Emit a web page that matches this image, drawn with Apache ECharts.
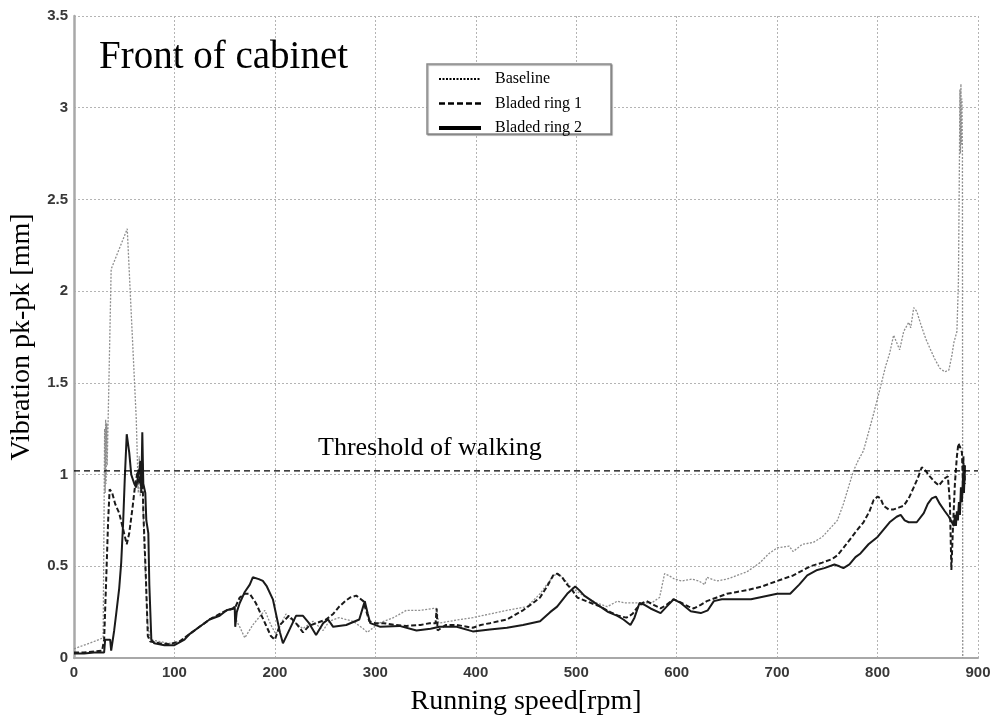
<!DOCTYPE html>
<html>
<head>
<meta charset="utf-8">
<script src="https://cdn.jsdelivr.net/npm/echarts@6/dist/echarts.min.js"></script>
<style>
  html, body { margin: 0; padding: 0; background: #fff; }
  #chart { width: 997px; height: 717px; }
</style>
</head>
<body>
<div id="chart"></div>
<script>
// Vibration (pk-pk, mm) against running speed (rpm), front of cabinet
const seriesNames = ['Baseline', 'Bladed ring 1', 'Bladed ring 2'];
const thresholdValue = 1.02;
const speedRange = [0, 900];

const baselineData = [
  [0,0.05],[10,0.07],[20,0.09],[29,0.11],[30,0.85],[30.5,1.25],[31,0.9],[31.5,1.3],[32,0.95],[32.5,1.28],
  [33,1.05],[34,1.3],[37,2.12],[53,2.34],[62,1.3],[64,0.9],[65,1.1],[66,0.88],[67,1.08],[68,0.95],
  [70,0.6],[73,0.2],[76,0.1],[85,0.09],[95,0.08],[105,0.09],[115,0.13],[125,0.17],[135,0.21],[145,0.24],
  [152,0.26],[158,0.27],[160,0.27],[162,0.2],[165,0.17],[170,0.11],[178,0.18],[190,0.26],[196,0.18],[201,0.13],
  [211,0.24],[218,0.2],[228,0.16],[238,0.2],[248,0.15],[254,0.2],[264,0.22],[278,0.2],[288,0.16],[292,0.14],
  [304,0.19],[318,0.22],[331,0.26],[345,0.26],[358,0.27],[361,0.27],[363,0.19],[374,0.2],[384,0.21],[397,0.22],
  [414,0.24],[431,0.26],[451,0.28],[464,0.35],[472,0.41],[478,0.45],[482,0.46],[488,0.43],[494,0.39],[507,0.34],
  [520,0.3],[531,0.28],[541,0.31],[548,0.3],[560,0.3],[575,0.3],[583,0.33],[588,0.46],[592,0.45],[598,0.43],
  [605,0.42],[615,0.43],[622,0.42],[628,0.4],[630,0.44],[640,0.42],[650,0.43],[660,0.45],[670,0.47],[683,0.52],
  [692,0.57],[700,0.6],[712,0.61],[716,0.58],[725,0.62],[736,0.63],[745,0.66],[750,0.69],[760,0.75],[766,0.84],
  [771,0.93],[776,1.02],[781,1.08],[786,1.13],[791,1.23],[796,1.33],[803,1.48],[808,1.59],[812,1.66],[816,1.76],
  [822,1.68],[826,1.78],[831,1.83],[833,1.8],[836,1.91],[839,1.89],[843,1.82],[848,1.74],[852,1.69],[857,1.63],
  [862,1.58],[867,1.56],[871,1.57],[874,1.65],[876,1.72],[879,1.78],[880.5,2.05],[881.5,2.7],[882,3.1],[882.5,2.75],
  [883,3.13],[883.5,2.8],[884,3.05],[884.5,2.76],[884.8,0.0]
];

const ring1Data = [
  [0,0.03],[10,0.03],[20,0.035],[28,0.04],[30,0.1],[32,0.42],[34,0.75],[35.5,0.92],[38,0.9],[41,0.84],
  [45,0.79],[49,0.7],[52.5,0.62],[55,0.68],[58.5,0.83],[61,0.95],[63.5,1.02],[65,0.95],[66,1.08],[67,1.0],
  [68,1.06],[69,0.8],[71.5,0.45],[73.5,0.12],[76,0.09],[85,0.08],[95,0.075],[105,0.09],[115,0.13],[125,0.17],
  [135,0.21],[145,0.24],[152,0.26],[160,0.27],[165,0.33],[170,0.35],[175,0.35],[181,0.3],[186,0.24],[191,0.18],
  [196,0.12],[200,0.1],[205,0.18],[214,0.23],[221,0.19],[228,0.14],[234,0.175],[241,0.19],[251,0.21],[258,0.24],
  [264,0.28],[270,0.31],[275,0.33],[281,0.34],[288,0.31],[294,0.2],[300,0.19],[308,0.19],[320,0.18],[331,0.175],
  [345,0.18],[354,0.19],[360,0.19],[361,0.27],[362,0.15],[370,0.18],[381,0.18],[397,0.165],[405,0.18],[414,0.19],
  [431,0.21],[447,0.26],[457,0.3],[464,0.33],[471,0.39],[477,0.45],[481,0.46],[486,0.44],[491,0.4],[496,0.37],
  [501,0.33],[510,0.31],[524,0.28],[534,0.25],[542,0.23],[550,0.22],[556,0.24],[560,0.27],[566,0.3],[570,0.31],
  [577,0.29],[584,0.27],[590,0.29],[597,0.32],[605,0.3],[612,0.28],[617,0.27],[624,0.29],[630,0.31],[640,0.33],
  [650,0.35],[660,0.36],[670,0.37],[685,0.39],[700,0.42],[716,0.45],[733,0.5],[745,0.52],[755,0.54],[760,0.56],
  [766,0.6],[773,0.65],[780,0.7],[786,0.74],[792,0.8],[796,0.86],[800,0.88],[803,0.87],[806,0.83],[811,0.81],
  [816,0.81],[821,0.82],[826,0.83],[831,0.87],[836,0.93],[840,0.98],[844,1.04],[848,1.02],[852,0.99],[857,0.96],
  [861,0.94],[864,0.96],[867,0.98],[870,0.99],[872,0.85],[873.5,0.48],[875,0.7],[877,0.95],[879,1.1],[880.5,1.17],
  [883,1.14],[884,1.12],[885,0.95],[885.5,1.1],[886,0.9],[886.5,1.05],[887,0.95]
];

const ring2Data = [
  [0,0.025],[10,0.025],[20,0.03],[30,0.03],[31,0.1],[36,0.1],[37,0.04],[40,0.15],[42,0.24],[45,0.38],
  [47,0.52],[49,0.75],[50.5,0.97],[52.5,1.22],[55,1.12],[57,1.0],[60,0.95],[62,0.93],[64,1.0],[66,1.05],
  [67,0.9],[68,1.23],[69,0.95],[71,0.9],[72,0.75],[74,0.68],[75,0.4],[77,0.1],[80,0.08],[90,0.07],
  [100,0.07],[110,0.1],[115,0.13],[125,0.17],[135,0.21],[145,0.23],[152,0.26],[158,0.27],[160,0.28],[160.5,0.17],
  [162,0.25],[165,0.3],[170,0.36],[175,0.4],[178,0.44],[184,0.43],[188,0.42],[192,0.39],[198,0.32],[201.5,0.23],
  [205,0.14],[208,0.08],[215,0.16],[221,0.23],[228,0.23],[234,0.19],[241,0.125],[248,0.19],[253,0.21],[258,0.17],
  [271,0.18],[284,0.21],[289.5,0.31],[292.5,0.24],[295,0.19],[305,0.17],[324,0.175],[341,0.15],[355,0.16],[364,0.17],
  [381,0.17],[397,0.145],[414,0.155],[431,0.165],[447,0.18],[464,0.2],[474,0.25],[481,0.28],[491,0.35],[499,0.39],
  [503,0.37],[508,0.34],[516,0.31],[524,0.28],[532,0.25],[541,0.23],[547,0.21],[554,0.18],[558,0.22],[563,0.3],
  [568,0.29],[574,0.27],[584,0.245],[590,0.28],[597,0.32],[604,0.3],[614,0.255],[624,0.245],[631,0.26],[637,0.31],
  [645,0.32],[654,0.32],[674,0.32],[687,0.335],[700,0.35],[713,0.35],[722,0.4],[730,0.45],[740,0.48],[747,0.49],
  [757,0.51],[762,0.5],[766,0.49],[772,0.51],[778,0.55],[783,0.57],[791,0.62],[800,0.66],[806,0.7],[812,0.74],
  [819,0.77],[823,0.78],[827,0.75],[831,0.74],[839,0.74],[846,0.79],[850,0.84],[854,0.87],[858,0.88],[862,0.84],
  [867,0.8],[871,0.77],[874,0.74],[876,0.72],[877,0.78],[878,0.72],[879,0.8],[880,0.75],[881,0.85],[882,0.78],
  [883,0.93],[884,0.85],[885,0.98],[886,0.9],[887,1.05]
];

const serif = "'Liberation Serif', 'Times New Roman', serif";
const sans = "'Liberation Sans', Arial, sans-serif";

const chart = echarts.init(document.getElementById('chart'), null, { renderer: 'canvas' });

const gridLine = { show: true, lineStyle: { color: '#b4b4b4', width: 1, type: [2, 2] } };
const tickLabel = { color: '#383838', fontFamily: sans, fontWeight: 'bold', fontSize: 15 };

chart.setOption({
  animation: false,
  backgroundColor: '#fff',
  grid: { left: 74, right: 19, top: 16, bottom: 59, containLabel: false, outerBoundsMode: 'none' },
  xAxis: {
    type: 'value', min: speedRange[0], max: speedRange[1], interval: 100,
    name: 'Running speed[rpm]', nameLocation: 'middle', nameGap: 30,
    nameTextStyle: { fontFamily: serif, fontSize: 28, color: '#000' },
    axisLine: { show: true, onZero: false, lineStyle: { color: '#a8a8a8', width: 2 } },
    axisTick: { show: false },
    axisLabel: Object.assign({ margin: 7 }, tickLabel),
    splitLine: gridLine
  },
  yAxis: {
    type: 'value', min: 0, max: 3.5, interval: 0.5,
    name: 'Vibration pk-pk [mm]', nameLocation: 'middle', nameGap: 38,
    nameTextStyle: { fontFamily: serif, fontSize: 28, color: '#000' },
    axisLine: { show: true, lineStyle: { color: '#a8a8a8', width: 2.5 } },
    axisTick: { show: false },
    axisLabel: Object.assign({ margin: 6 }, tickLabel),
    splitLine: gridLine
  },
  legend: {
    show: true,
    data: [
      { name: seriesNames[0], lineStyle: { color: '#000', type: [2, 1.5], width: 2 } },
      { name: seriesNames[1], lineStyle: { color: '#000', type: [6, 3], width: 2.5 } },
      { name: seriesNames[2], lineStyle: { color: '#000', type: 'solid', width: 4 } }
    ],
    itemStyle: { opacity: 0 },
    orient: 'vertical', left: 427, top: 65,
    padding: [6, 8, 6, 10], itemGap: 8.5, itemWidth: 42, itemHeight: 14,
    textStyle: { fontFamily: serif, fontSize: 16, color: '#000', padding: [0, 0, 0, 9] },
    z: 6
  },
  graphic: [
    {
      type: 'rect', z: 5, silent: true,
      shape: { x: 427, y: 64, width: 184, height: 70 },
      style: { fill: '#fff', stroke: '#8a8a8a', lineWidth: 1.5,
        shadowColor: 'rgba(0,0,0,0.35)', shadowOffsetX: 1, shadowOffsetY: 1, shadowBlur: 1 }
    },
    {
      type: 'text', z: 5, silent: true, left: 99, top: 38,
      style: { text: 'Front of cabinet', font: '39px ' + serif, fill: '#000' }
    },
    {
      type: 'text', z: 5, silent: true, left: 318, top: 435,
      style: { text: 'Threshold of walking', font: '26px ' + serif, fill: '#000' }
    }
  ],
  series: [
    {
      name: seriesNames[0], type: 'line', data: baselineData, showSymbol: false, symbol: 'none',
      lineStyle: { color: '#8e8e8e', width: 1.3, type: [2, 1.5] }, itemStyle: { color: '#8e8e8e' }, z: 2
    },
    {
      name: seriesNames[1], type: 'line', data: ring1Data, showSymbol: false, symbol: 'none',
      lineStyle: { color: '#1a1a1a', width: 2, type: [5, 2.5] }, itemStyle: { color: '#1a1a1a' }, z: 3
    },
    {
      name: seriesNames[2], type: 'line', data: ring2Data, showSymbol: false, symbol: 'none',
      lineStyle: { color: '#1a1a1a', width: 2 }, itemStyle: { color: '#1a1a1a' }, z: 3
    },
    {
      name: 'threshold', type: 'line', symbol: 'none', silent: true,
      data: [[speedRange[0], thresholdValue], [speedRange[1], thresholdValue]],
      lineStyle: { color: '#000', width: 1.3, type: [6, 4] }, z: 4
    }
  ]
});
</script>
</body>
</html>
